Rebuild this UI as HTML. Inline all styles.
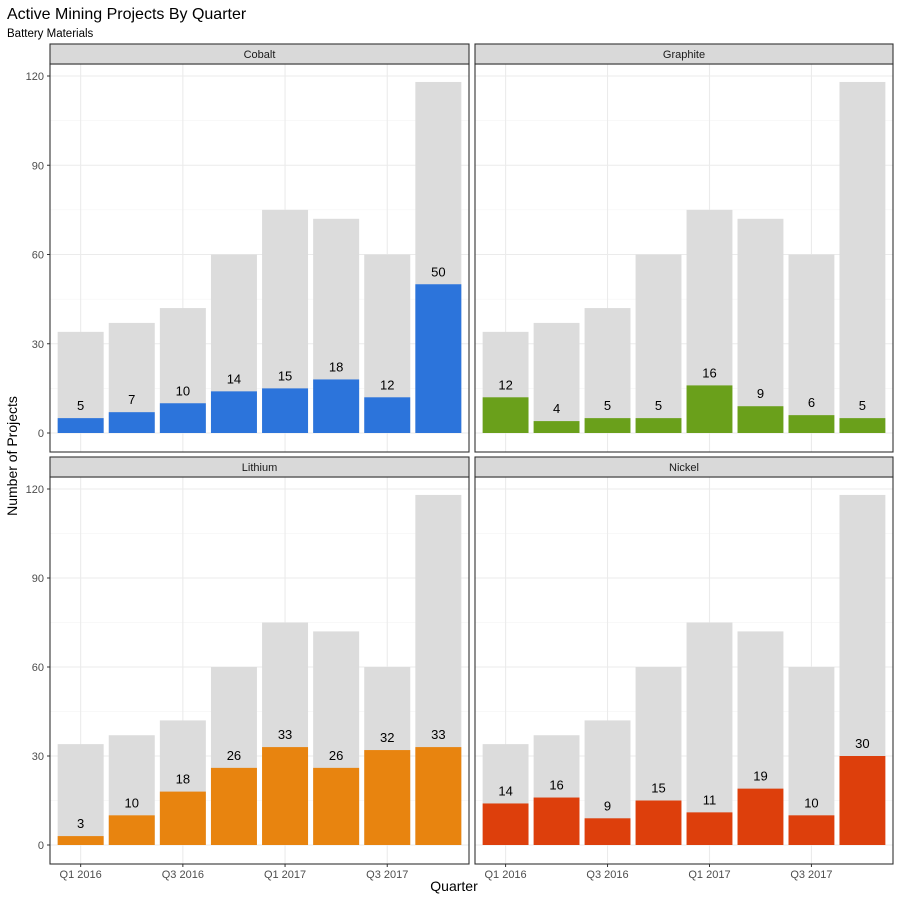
<!DOCTYPE html>
<html><head><meta charset="utf-8"><style>
body{margin:0;background:#fff;font-family:"Liberation Sans","DejaVu Sans",sans-serif}
svg text{font-family:"Liberation Sans","DejaVu Sans",sans-serif}
</style></head><body>
<svg id="c" width="900" height="900" xmlns="http://www.w3.org/2000/svg">
<text x="7" y="19" font-size="16" fill="#000">Active Mining Projects By Quarter</text>
<text x="7" y="37" font-size="11.5" fill="#000">Battery Materials</text>
<text x="454" y="891" font-size="14" text-anchor="middle" fill="#000">Quarter</text>
<text transform="translate(17,456) rotate(-90)" font-size="14" text-anchor="middle" fill="#000">Number of Projects</text>
</svg>
<script>
const categories=["Q1 2016","Q2 2016","Q3 2016","Q4 2016","Q1 2017","Q2 2017","Q3 2017","Q4 2017"];
const totals=[34,37,42,60,75,72,60,118];
const cobalt=[5,7,10,14,15,18,12,50];
const graphite=[12,4,5,5,16,9,6,5];
const lithium=[3,10,18,26,33,26,32,33];
const nickel=[14,16,9,15,11,19,10,30];
const yTicks=[0,30,60,90,120];
const xTickLabels=["Q1 2016","Q3 2016","Q1 2017","Q3 2017"];
const panelNames=["Cobalt","Graphite","Lithium","Nickel"];
const panelData=[cobalt,graphite,lithium,nickel];
const panelColors=["#2c74db","#6aa01b","#e8840f","#dd3f0c"];
const NS="http://www.w3.org/2000/svg";
const svg=document.getElementById('c');
function mk(tag,attrs,parent){const e=document.createElementNS(NS,tag);for(const k in attrs)e.setAttribute(k,attrs[k]);(parent||svg).appendChild(e);return e;}
const boxes=[{x:50,y:44,w:419,b:452},{x:475,y:44,w:418,b:452},{x:50,y:457,w:419,b:864},{x:475,y:457,w:418,b:864}];
boxes.forEach((bx,p)=>{
  const top=bx.y+20;
  const g=mk('g',{});
  
  
  const y0=bx.b-19, y120=top+12;
  const yS=v=>y0-(y0-y120)*v/120;
  const step=bx.w/8.2;
  const xS=i=>bx.x+step*(0.6+i);
  // minor grid
  for(let v=15;v<=135;v+=30){const yy=yS(v);if(yy>top)mk('line',{x1:bx.x,x2:bx.x+bx.w,y1:yy,y2:yy,stroke:'#f2f2f2','stroke-width':0.6},g);}
  yTicks.forEach(v=>{const l=mk('line',{x1:bx.x,x2:bx.x+bx.w,y1:yS(v),y2:yS(v),stroke:'#ebebeb','stroke-width':1.1},g);});
  categories.forEach((c,i)=>{if(xTickLabels.includes(c))mk('line',{x1:xS(i),x2:xS(i),y1:top,y2:bx.b,stroke:'#ebebeb','stroke-width':1.1},g);});
  const bw=step*0.9;
  totals.forEach((v,i)=>{const r=mk('rect',{x:xS(i)-bw/2,y:yS(v),width:bw,height:y0-yS(v),fill:'#dcdcdc'},g);
    
    });
  panelData[p].forEach((v,i)=>{const r=mk('rect',{x:xS(i)-bw/2,y:yS(v),width:bw,height:y0-yS(v),fill:panelColors[p]},g);
    
    
    const t=mk('text',{x:xS(i),y:yS(v)-8,'font-size':13,'text-anchor':'middle',fill:'#000'},g);t.textContent=v;
    
    });
  mk('rect',{x:bx.x,y:top,width:bx.w,height:bx.b-top,fill:'none',stroke:'#333','stroke-width':1.1},g);
  const s=mk('rect',{x:bx.x,y:bx.y,width:bx.w,height:20,fill:'#d9d9d9',stroke:'#333','stroke-width':1.1},g);
  
  
  const st=mk('text',{x:bx.x+bx.w/2,y:bx.y+14,'font-size':11,'text-anchor':'middle',fill:'#1a1a1a'},g);st.textContent=panelNames[p];
  
  
  if(p%2===0){yTicks.forEach(v=>{mk('line',{x1:bx.x-3,x2:bx.x,y1:yS(v),y2:yS(v),stroke:'#333'},g);
    const t=mk('text',{x:bx.x-6,y:yS(v)+4,'font-size':11,'text-anchor':'end',fill:'#4d4d4d'},g);t.textContent=v;
    
    });}
  if(p>=2){categories.forEach((c,i)=>{if(!xTickLabels.includes(c))return;
    mk('line',{x1:xS(i),x2:xS(i),y1:bx.b,y2:bx.b+3,stroke:'#333'},g);
    const t=mk('text',{x:xS(i),y:bx.b+14,'font-size':11,'text-anchor':'middle',fill:'#4d4d4d'},g);t.textContent=c;
    
    });}
});
</script>
</body></html>
